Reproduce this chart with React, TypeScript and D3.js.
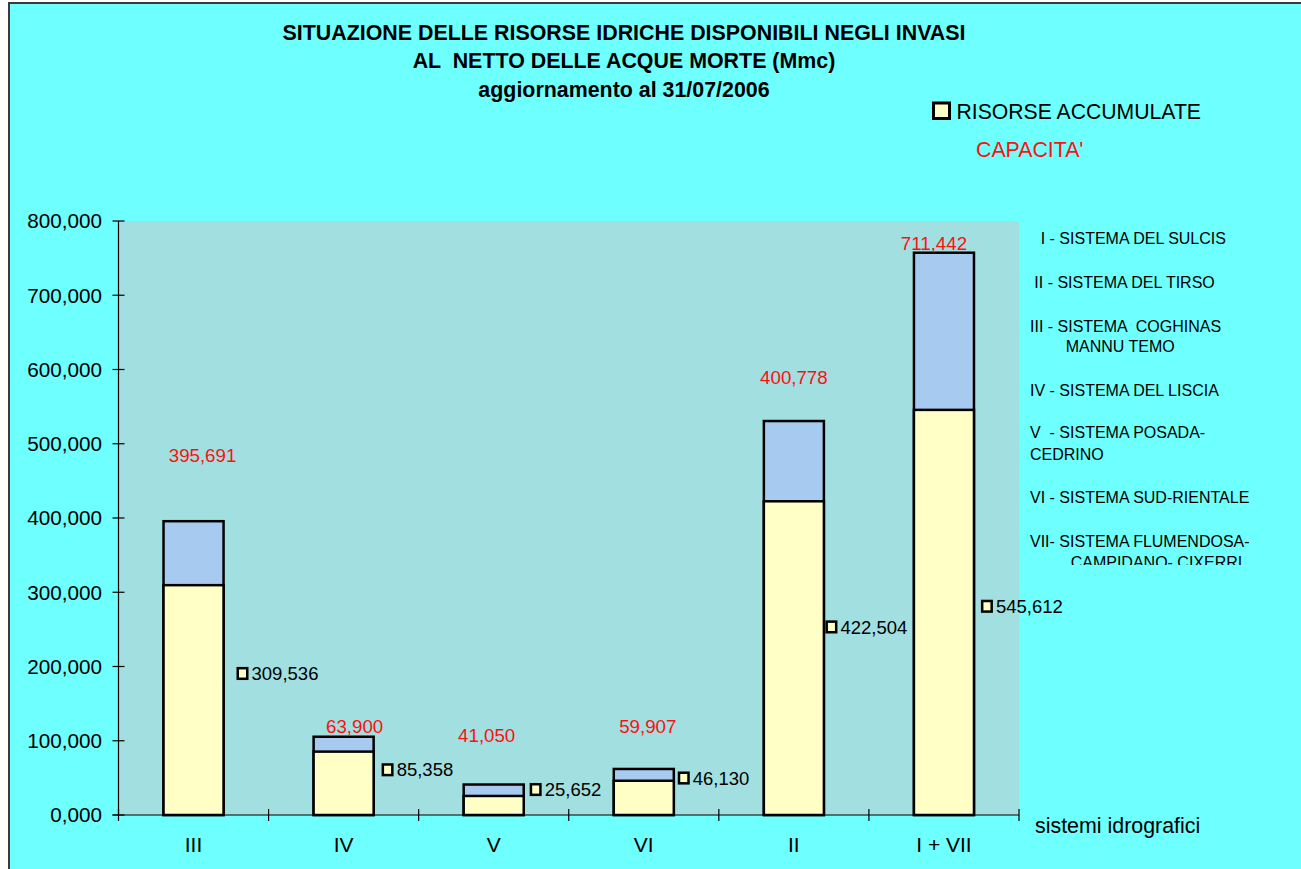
import React from "react";
import * as d3 from "d3";

// ---------- DATA ----------
const categories = ["III", "IV", "V", "VI", "II", "I + VII"];
// RISORSE ACCUMULATE (Mmc) – yellow part
const accumulated = [309.536, 85.358, 25.652, 46.13, 422.504, 545.612];
// full bar height as drawn (Mmc)
const barTotals = [395.691, 105.4, 41.05, 62.0, 530.6, 757.3];
// CAPACITA' labels (red)
const capacityLabels = [395.691, 63.9, 41.05, 59.907, 400.778, 711.442];
const yTicks = [0, 100, 200, 300, 400, 500, 600, 700, 800];
const titleLines = [
  "SITUAZIONE DELLE RISORSE IDRICHE DISPONIBILI NEGLI INVASI",
  "AL  NETTO DELLE ACQUE MORTE (Mmc)",
  "aggiornamento al 31/07/2006",
];
const systemLines = [
  "I - SISTEMA DEL SULCIS",
  "II - SISTEMA DEL TIRSO",
  "III - SISTEMA  COGHINAS",
  "MANNU TEMO",
  "IV - SISTEMA DEL LISCIA",
  "V  - SISTEMA POSADA-",
  "CEDRINO",
  "VI - SISTEMA SUD-RIENTALE",
  "VII- SISTEMA FLUMENDOSA-",
  "CAMPIDANO- CIXERRI",
];

// ---------- LAYOUT ----------
const W = 1301;
const H = 869;
const plot = { left: 118.5, right: 1019, top: 221, bottom: 815 };
// manual label placement (as in original sheet): [dx from category centre, level in Mmc]
const capLabelPos: [number, number][] = [
  [9, 475], [11, 110], [-7, 98.6], [4, 110], [0, 580], [-10, 761],
];
// accumulated label: [dx from bar right edge, level in Mmc]
const accLabelPos: [number, number][] = [
  [13, 190.6], [8, 60.9], [6, 34.3], [4, 49.8], [1.6, 253.3], [7, 281.1],
];
const systemLinePos: [number, number][] = [
  [1040.7, 244.3], [1034.3, 288.3], [1030, 331.7], [1065.7, 351.7], [1030, 395.7],
  [1030, 438.3], [1030, 460], [1030, 502.7], [1030, 546.7], [1070.7, 568],
];

const FONT = "'Liberation Sans', Arial, Helvetica, sans-serif";
const BG = "#6EFFFF";
const PLOT_BG = "#A1DFE0";
const YELLOW = "#FFFFC6";
const BLUE = "#A6CAF0";
const RED = "#FF1010";

const fmt = (v: number) => d3.format(".3f")(v).replace(".", ",");

export default function App() {
  const x = d3
    .scaleBand<string>()
    .domain(categories)
    .range([plot.left, plot.right])
    .paddingInner(0.6)
    .paddingOuter(0.3);
  const y = d3.scaleLinear().domain([0, 800]).range([plot.bottom, plot.top]);
  const step = x.step();
  const bw = x.bandwidth();

  return (
    <svg
      width={W}
      height={H}
      style={{ position: "absolute", left: 0, top: 0, display: "block" }}
      fontFamily={FONT}
    >
      <rect x={0} y={0} width={W} height={H} fill="#ffffff" />
      <rect x={9} y={3} width={W + 20} height={H + 20} fill={BG} stroke="#3a3a3a" strokeWidth={2} />

      {/* Title */}
      {titleLines.map((t, i) => (
        <text
          key={i}
          x={624}
          y={40 + i * 28.3}
          textAnchor="middle"
          fontWeight="bold"
          fontSize={21.4}
          fill="#000"
          style={{ whiteSpace: "pre" }}
        >
          {t}
        </text>
      ))}

      {/* Legend */}
      <rect x={933.5} y={103} width={16} height={15.5} fill={YELLOW} stroke="#000" strokeWidth={3} />
      <text x={956.5} y={119.3} fontSize={21.2} fill="#000">RISORSE ACCUMULATE</text>
      <text x={976} y={156.7} fontSize={21.3} fill={RED}>CAPACITA'</text>

      {/* Plot area */}
      <rect x={plot.left} y={plot.top} width={plot.right - plot.left} height={plot.bottom - plot.top} fill={PLOT_BG} />

      {/* Bars */}
      {categories.map((c, i) => {
        const x0 = x(c)!;
        return (
          <g key={c}>
            <rect
              x={x0}
              y={y(barTotals[i])}
              width={bw}
              height={y(0) - y(barTotals[i])}
              fill={BLUE}
              stroke="#000"
              strokeWidth={2.5}
            />
            <rect
              x={x0}
              y={y(accumulated[i])}
              width={bw}
              height={y(0) - y(accumulated[i])}
              fill={YELLOW}
              stroke="#000"
              strokeWidth={2.5}
            />
          </g>
        );
      })}

      {/* Axes */}
      <line x1={plot.left} x2={plot.left} y1={plot.top} y2={plot.bottom} stroke="#000" strokeWidth={1.2} />
      <line x1={plot.left - 6} x2={plot.right} y1={plot.bottom} y2={plot.bottom} stroke="#000" strokeWidth={1.2} />
      {yTicks.map((t) => (
        <g key={t}>
          <line x1={plot.left - 6} x2={plot.left + 6} y1={y(t)} y2={y(t)} stroke="#000" strokeWidth={1.2} />
          <text x={102} y={y(t) + 7.3} textAnchor="end" fontSize={20.7} fill="#000">
            {fmt(t)}
          </text>
        </g>
      ))}
      {d3.range(categories.length + 1).map((k) => {
        const xx = plot.left + k * step;
        return <line key={k} x1={xx} x2={xx} y1={plot.bottom - 6} y2={plot.bottom + 6} stroke="#000" strokeWidth={1.2} />;
      })}
      {categories.map((c) => (
        <text key={c} x={x(c)! + bw / 2} y={851.7} textAnchor="middle" fontSize={21} fill="#000">
          {c}
        </text>
      ))}
      <text x={1035} y={833} fontSize={21.4} fill="#000">sistemi idrografici</text>

      {/* Capacity labels */}
      {categories.map((c, i) => (
        <text
          key={c}
          x={x(c)! + bw / 2 + capLabelPos[i][0]}
          y={y(capLabelPos[i][1])}
          textAnchor="middle"
          fontSize={18.7}
          fill={RED}
        >
          {fmt(capacityLabels[i])}
        </text>
      ))}

      {/* Accumulated labels */}
      {categories.map((c, i) => {
        const sx = x(c)! + bw + accLabelPos[i][0];
        const cy = y(accLabelPos[i][1]);
        return (
          <g key={c}>
            <rect x={sx + 1.2} y={cy - 5.3} width={9.5} height={10.6} fill={YELLOW} stroke="#000" strokeWidth={2.5} />
            <text x={sx + 15} y={cy + 6.7} fontSize={18.5} fill="#000">
              {fmt(accumulated[i])}
            </text>
          </g>
        );
      })}

      {/* Systems list (clipped text box) */}
      <defs>
        <clipPath id="sysclip">
          <rect x={1020} y={225} width={280} height={340} />
        </clipPath>
      </defs>
      <g clipPath="url(#sysclip)">
        {systemLines.map((t, i) => (
          <text
            key={i}
            x={systemLinePos[i][0]}
            y={systemLinePos[i][1]}
            fontSize={16}
            fill="#000"
            style={{ whiteSpace: "pre" }}
          >
            {t}
          </text>
        ))}
      </g>
    </svg>
  );
}
